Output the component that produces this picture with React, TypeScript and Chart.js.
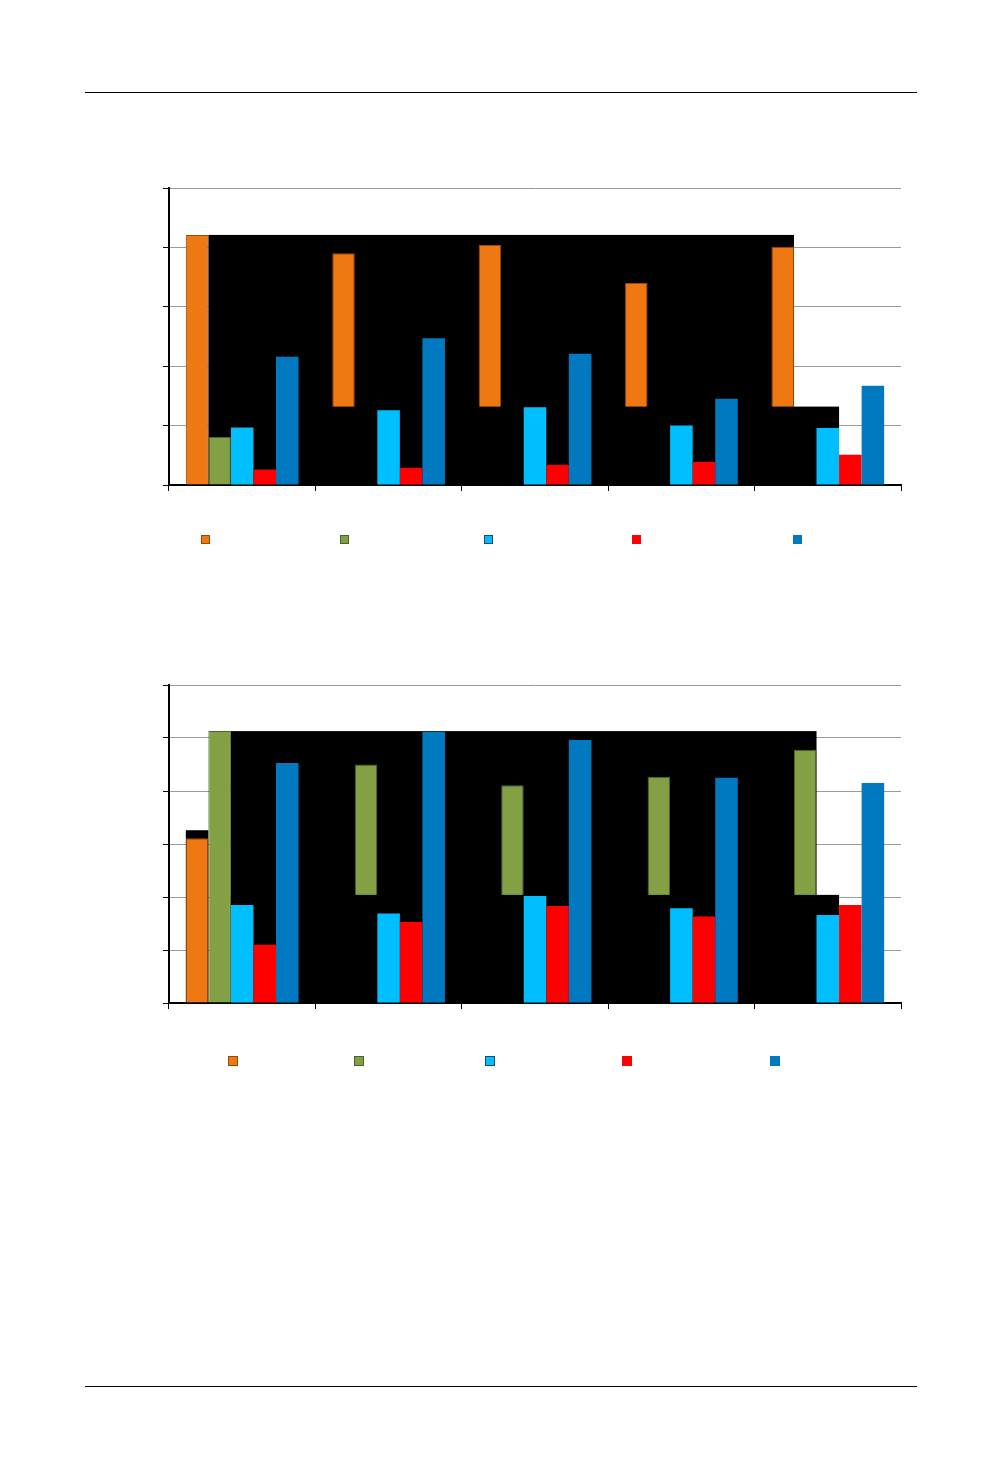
import React, { useEffect, useRef } from "react";
import { Chart, registerables } from "chart.js";

Chart.register(...registerables);

// ---------- data ----------
const categories = ["1", "2", "3", "4", "5"];
const seriesNames = ["Series 1", "Series 2", "Series 3", "Series 4", "Series 5"];

// chart 1 (top)
const orangeA = [4.21, 3.9, 4.04, 3.4, 4.01];
const greenA = [0.81, null, null, null, null];
const cyanA = [0.97, 1.26, 1.31, 1.0, 0.96];
const redA = [0.26, 0.29, 0.34, 0.39, 0.51];
const blueA = [2.16, 2.47, 2.21, 1.45, 1.67];
const yMaxA = 5;
const maskTopA = 4.21;
const maskStepA = 1.32;

// chart 2 (bottom)
const orangeB = [3.11, null, null, null, null];
const greenB = [5.13, 4.5, 4.11, 4.27, 4.78];
const cyanB = [1.85, 1.69, 2.02, 1.79, 1.66];
const redB = [1.1, 1.53, 1.83, 1.63, 1.85];
const blueB = [4.53, 5.12, 4.96, 4.25, 4.15];
const yMaxB = 6;
const maskTopB = 5.13;
const maskStepB = 2.04;
const maskCapB = 3.26;

// ---------- styles ----------
const COLORS = ["#F07812", "#84A044", "#00BFFF", "#FF0000", "#0079C1"];
const BORDERS = ["#9A4A08", "#4E6424", "#00BFFF", "#FF0000", "#0079C1"];
const BORDER_W = [1, 1, 0, 0, 0];

function edge(chart: any, di: number, i: number, side: number) {
  const el = chart.getDatasetMeta(di).data[i];
  const { x, width } = el.getProps(["x", "width"], true);
  return side > 0 ? x + width / 2 : x - width / 2;
}

const maskPlugin = {
  id: "maskBoxes",
  beforeDatasetsDraw(chart: any, _a: any, opts: any) {
    const { ctx } = chart;
    const y = chart.scales.y;
    const n = chart.data.labels.length;
    const base = y.getPixelForValue(0);
    const top = y.getPixelForValue(opts.top);
    const x0 = edge(chart, opts.upper, 0, 1);
    const x1 = edge(chart, opts.upper, n - 1, 1);
    ctx.save();
    ctx.fillStyle = "#000";
    ctx.fillRect(x0, top, x1 - x0, base - top);
    if (opts.cap != null) {
      const cx0 = edge(chart, 0, 0, -1);
      const cx1 = edge(chart, 0, 0, 1);
      const cy = y.getPixelForValue(opts.cap);
      ctx.fillRect(cx0, cy, cx1 - cx0, base - cy);
    }
    ctx.restore();
  },
  beforeDatasetDraw(_chart: any, args: any) {
    if (args.index >= 2) return false;
  },
  afterDatasetsDraw(chart: any, _a: any, opts: any) {
    const { ctx } = chart;
    const y = chart.scales.y;
    const n = chart.data.labels.length;
    const base = y.getPixelForValue(0);
    const st = y.getPixelForValue(opts.step);
    const x0 = edge(chart, 1, 0, 1);
    const x1 = edge(chart, 2, n - 1, 1);
    ctx.save();
    ctx.fillStyle = "#000";
    ctx.fillRect(x0, st, x1 - x0, base - st);
    ctx.restore();
    for (let i = 2; i < chart.data.datasets.length; i++) {
      chart.getDatasetMeta(i).controller.draw();
    }
  },
};

type ChartProps = {
  series: (number | null)[][];
  yMax: number;
  mask: { top: number; step: number; cap: number | null; upper: number };
  width: number;
  height: number;
  padding: { left: number; right: number; top: number; bottom: number };
};

function BarChart({ series, yMax, mask, width, height, padding }: ChartProps) {
  const ref = useRef<HTMLCanvasElement | null>(null);
  useEffect(() => {
    if (!ref.current) return;
    const chart = new Chart(ref.current, {
      type: "bar",
      data: {
        labels: categories,
        datasets: series.map((d, i) => ({
          label: seriesNames[i],
          data: d,
          backgroundColor: COLORS[i],
          borderColor: BORDERS[i],
          borderWidth: BORDER_W[i],
          barPercentage: 1,
          categoryPercentage: 0.77,
        })),
      },
      options: {
        responsive: false,
        animation: false,
        events: [],
        layout: { padding },
        plugins: {
          legend: { display: false },
          tooltip: { enabled: false },
          maskBoxes: mask,
        } as any,
        scales: {
          x: {
            ticks: { display: false },
            grid: {
              display: true,
              drawOnChartArea: false,
              drawTicks: true,
              tickLength: 6,
              tickColor: "#000",
              offset: true,
            },
            border: { display: true, color: "#000", width: 2 },
            afterFit: (s: any) => {
              s.height = 8;
            },
          },
          y: {
            min: 0,
            max: yMax,
            ticks: { display: false, stepSize: 1 },
            grid: {
              color: "#9a9a9a",
              lineWidth: 1,
              tickColor: "#000",
              tickLength: 6,
              drawTicks: true,
            },
            border: { display: true, color: "#000", width: 2 },
            afterFit: (s: any) => {
              s.width = 8;
            },
          },
        },
      },
      plugins: [maskPlugin as any],
    });
    return () => chart.destroy();
  }, []);
  return <canvas ref={ref} width={width} height={height} style={{ display: "block" }} />;
}

function Legend({ xs, y, size }: { xs: number[]; y: number; size: number }) {
  return (
    <>
      {xs.map((x, i) => (
        <div
          key={i}
          style={{
            position: "absolute",
            left: x - size / 2,
            top: y - size / 2,
            width: size,
            height: size,
            boxSizing: "border-box",
            background: COLORS[i],
            border: i < 3 ? `1px solid ${i === 2 ? "#1a4a66" : BORDERS[i]}` : "none",
          }}
        />
      ))}
    </>
  );
}

const legendXA = [205, 344, 488, 636, 797];
const legendXB = [233, 359, 490, 627, 775];

export default function App() {
  return (
    <div
      style={{
        position: "absolute",
        left: 0,
        top: 0,
        width: 1002,
        height: 1475,
        background: "#fff",
        overflow: "hidden",
        fontFamily: "Arial, 'Liberation Sans', sans-serif",
      }}
    >
      <div style={{ position: "absolute", left: 85, top: 92, width: 832, height: 1, background: "#000" }} />
      <div style={{ position: "absolute", left: 85, top: 1386, width: 832, height: 1, background: "#000" }} />

      <div style={{ position: "absolute", left: 100, top: 160 }}>
        <BarChart
          series={[orangeA, greenA, cyanA, redA, blueA]}
          yMax={yMaxA}
          mask={{ top: maskTopA, step: maskStepA, cap: null, upper: 0 }}
          width={820}
          height={360}
          padding={{ left: 61, right: 19, top: 28, bottom: 27 }}
        />
      </div>
      <Legend xs={legendXA} y={539} size={9} />

      <div style={{ position: "absolute", left: 100, top: 660 }}>
        <BarChart
          series={[orangeB, greenB, cyanB, redB, blueB]}
          yMax={yMaxB}
          mask={{ top: maskTopB, step: maskStepB, cap: maskCapB, upper: 1 }}
          width={820}
          height={370}
          padding={{ left: 61, right: 19, top: 25, bottom: 19 }}
        />
      </div>
      <Legend xs={legendXB} y={1061} size={10} />
    </div>
  );
}
